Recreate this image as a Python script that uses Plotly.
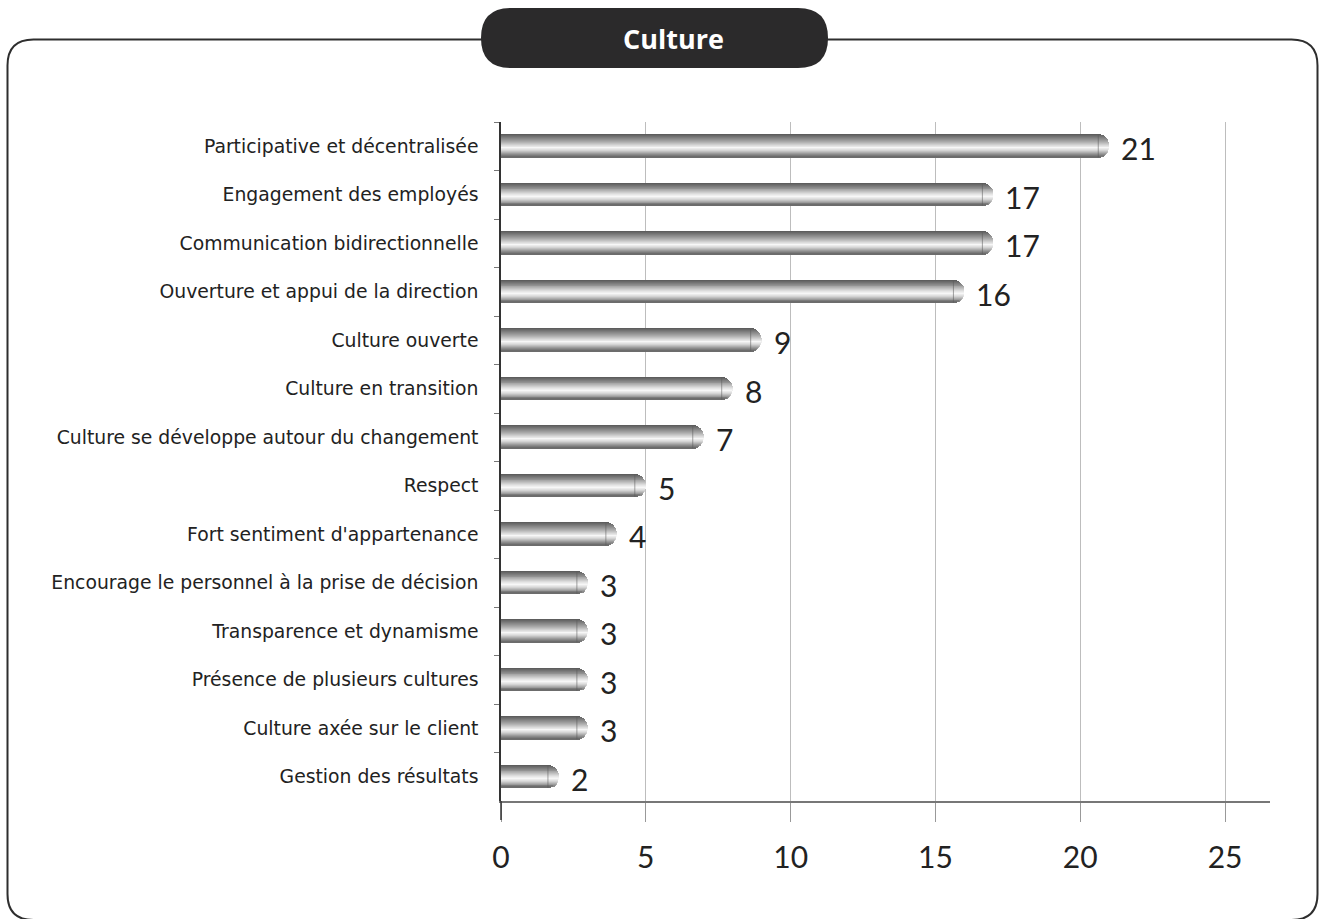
import math
import plotly.graph_objects as go

# Survey results: characteristics of the organisational culture
categories = [
    "Participative et décentralisée",
    "Engagement des employés",
    "Communication bidirectionnelle",
    "Ouverture et appui de la direction",
    "Culture ouverte",
    "Culture en transition",
    "Culture se développe autour du changement",
    "Respect",
    "Fort sentiment d'appartenance",
    "Encourage le personnel à la prise de décision",
    "Transparence et dynamisme",
    "Présence de plusieurs cultures",
    "Culture axée sur le client",
    "Gestion des résultats",
]
counts = [21, 17, 17, 16, 9, 8, 7, 5, 4, 3, 3, 3, 3, 2]
x_ticks = [0, 5, 10, 15, 20, 25]

# Page geometry (pixels)
W, H = 1320, 919
L, R, T, B = 501, 50, 122, 118
PW, PH = W - L - R, H - T - B
X_MAX = 26.55

LABEL_FONT = "DejaVu Sans"
NUM_FONT = "Lato"

# Cylinder-like shading: the bar is split into thin horizontal strips
N_STRIPS = 24
BAR_W = 0.46                      # bar thickness in category units
CAP = 11 / (PW / X_MAX)           # length of the rounded end, data units

shade_stops = [(0.0, 88), (0.12, 118), (0.32, 170), (0.5, 225),
               (0.6, 248), (0.72, 215), (0.88, 145), (1.0, 100)]


def shade(s):
    for (s0, g0), (s1, g1) in zip(shade_stops, shade_stops[1:]):
        if s0 <= s <= s1:
            g = g0 + (g1 - g0) * (s - s0) / (s1 - s0)
            g = int(round(g))
            return f"rgb({g},{g},{g})"
    return "rgb(100,100,100)"


fig = go.Figure()
strip = BAR_W / N_STRIPS
for k in range(N_STRIPS):
    s = (k + 0.5) / N_STRIPS
    t = abs(2 * s - 1)                       # distance from bar centre line
    ext = CAP * math.sqrt(max(0.0, 1 - t * t))
    lengths = [max(0.0, v - CAP + ext) for v in counts]
    fig.add_trace(go.Bar(
        y=categories, x=lengths, orientation="h",
        width=strip * 1.25, offset=-BAR_W / 2 + k * strip - strip * 0.125,
        marker=dict(color=shade(s), line=dict(width=0)),
        hoverinfo="skip", showlegend=False,
    ))

# faint seam where the rounded end starts
shapes = []
for i, v in enumerate(counts):
    shapes.append(dict(type="line", xref="x", yref="y",
                       x0=v - CAP, x1=v - CAP,
                       y0=i - BAR_W / 2, y1=i + BAR_W / 2,
                       line=dict(color="rgba(90,90,90,0.55)", width=1)))


def px(x):
    return (x - L) / PW


def py(y):
    return (T + PH - y) / PH


# rounded outer frame (bottom edge runs just past the page)
x0, y0, x1, y1, r = 7.5, 39.5, 1317.5, 920, 26
frame = (
    f"M {px(x0)} {py(y0 + r)} "
    f"Q {px(x0)} {py(y0)} {px(x0 + r)} {py(y0)} "
    f"L {px(x1 - r)} {py(y0)} "
    f"Q {px(x1)} {py(y0)} {px(x1)} {py(y0 + r)} "
    f"L {px(x1)} {py(y1 - r)} "
    f"Q {px(x1)} {py(y1)} {px(x1 - r)} {py(y1)} "
    f"L {px(x0 + r)} {py(y1)} "
    f"Q {px(x0)} {py(y1)} {px(x0)} {py(y1 - r)} Z"
)
shapes.append(dict(type="path", xref="paper", yref="paper", path=frame,
                   line=dict(color="#2e2e2e", width=2), layer="below"))

# y axis continues a little below the x axis
shapes.append(dict(type="line", xref="paper", yref="paper",
                   x0=0, x1=0, y0=py(801), y1=py(820),
                   line=dict(color="#333", width=1.5)))

# dark title pill
ax0, ay0, ax1, ay1 = 481, 8, 828, 68
rr = (ay1 - ay0) / 2
pill = (
    f"M {px(ax0 + rr)} {py(ay0)} L {px(ax1 - rr)} {py(ay0)} "
    f"Q {px(ax1)} {py(ay0)} {px(ax1)} {py(ay0 + rr)} "
    f"Q {px(ax1)} {py(ay1)} {px(ax1 - rr)} {py(ay1)} "
    f"L {px(ax0 + rr)} {py(ay1)} "
    f"Q {px(ax0)} {py(ay1)} {px(ax0)} {py(ay0 + rr)} "
    f"Q {px(ax0)} {py(ay0)} {px(ax0 + rr)} {py(ay0)} Z"
)
shapes.append(dict(type="path", xref="paper", yref="paper", path=pill,
                   fillcolor="#2b2a2b", line=dict(width=0), layer="above"))

annotations = [dict(
    x=px(673), y=py(38), xref="paper", yref="paper",
    xanchor="center", yanchor="middle",
    text="<b>Culture</b>", showarrow=False,
    font=dict(family="Open Sans", size=27, color="white"),
)]
for cat, v in zip(categories, counts):
    annotations.append(dict(
        x=v, y=cat, xref="x", yref="y", text=str(v), showarrow=False,
        xanchor="left", yanchor="middle", xshift=10, yshift=-2,
        font=dict(family=NUM_FONT, size=30, color="#222"),
    ))

fig.update_layout(
    width=W, height=H, autosize=False,
    margin=dict(l=L, r=R, t=T, b=B),
    paper_bgcolor="white", plot_bgcolor="white",
    barmode="overlay", bargap=0,
    shapes=shapes, annotations=annotations,
    xaxis=dict(
        range=[0, X_MAX], tickvals=x_ticks, ticktext=[str(t) for t in x_ticks],
        showgrid=True, gridcolor="#bdbdbd", gridwidth=1,
        showline=True, linecolor="#777", linewidth=1.5,
        ticks="outside", ticklen=19, tickcolor="#999", tickwidth=1,
        ticklabelstandoff=10,
        tickfont=dict(family=NUM_FONT, size=30, color="#222"),
        zeroline=False, fixedrange=True,
    ),
    yaxis=dict(
        categoryorder="array", categoryarray=categories, autorange="reversed",
        showline=True, linecolor="#333", linewidth=1.5,
        ticks="outside", tickson="boundaries", ticklen=5, tickcolor="#777",
        ticklabelstandoff=17,
        tickfont=dict(family=LABEL_FONT, size=18.8, color="#222"),
        showgrid=False, fixedrange=True,
    ),
)

fig.write_html("out.html")
